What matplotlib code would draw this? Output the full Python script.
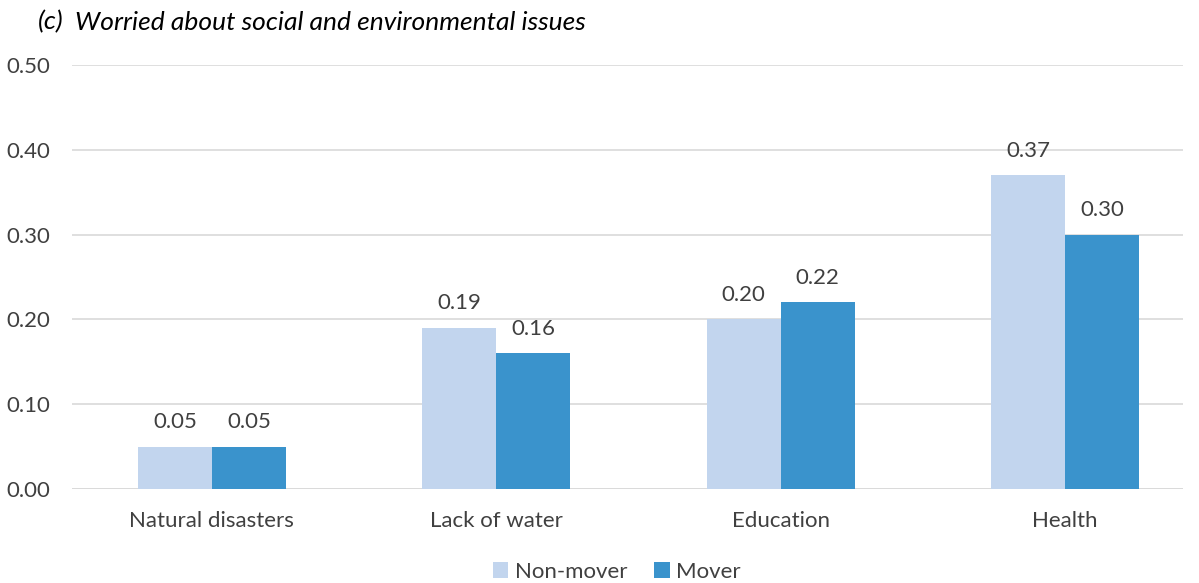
import numpy as np
import matplotlib.pyplot as plt

categories = ['Natural disasters', 'Lack of water', 'Education', 'Health']
non_mover = [0.05, 0.19, 0.20, 0.37]
mover = [0.05, 0.16, 0.22, 0.30]
yticks = [0.0, 0.1, 0.2, 0.3, 0.4, 0.5]

plt.rcParams['font.family'] = ['Lato', 'DejaVu Sans']
txt = '#404040'

fig = plt.figure(figsize=(11.99, 5.83), dpi=100)
ax = fig.add_axes([72 / 1199, 1 - 489 / 583, 1111 / 1199, 424 / 583])

x = np.arange(len(categories))
w = 0.26
b1 = ax.bar(x - w / 2, non_mover, width=w, color='#C2D5EE', label='Non-mover', zorder=2)
b2 = ax.bar(x + w / 2, mover, width=w, color='#3A93CC', label='Mover', zorder=2)

for bars, vals in [(b1, non_mover), (b2, mover)]:
    for r, v in zip(bars, vals):
        ax.text(r.get_x() + r.get_width() / 2, v + 0.017, f'{v:.2f}',
                ha='center', va='bottom', fontsize=16, color=txt)

ax.set_xlim(-0.492, 3.415)
ax.set_ylim(0, 0.5)
ax.set_yticks(yticks)
ax.set_yticklabels([f'{t:.2f}' for t in yticks])
ax.set_xticks(x)
ax.set_xticklabels(categories)
ax.tick_params(axis='both', length=0, labelsize=16, labelcolor=txt)
ax.tick_params(axis='y', pad=16)
ax.tick_params(axis='x', pad=16)
ax.grid(axis='y', color='#D9D9D9', linewidth=1.2, zorder=0)
for s in ax.spines.values():
    s.set_visible(False)
ax.axhline(0, color='#D9D9D9', linewidth=1.2, zorder=1)

fig.text(38 / 1199, 1 - 22 / 583, '(c)',
         fontsize=19, style='italic', color='black', va='center')
fig.text(75 / 1199, 1 - 22 / 583, 'Worried about social and environmental issues',
         fontsize=19, style='italic', color='black', va='center')

fig.legend(handles=[b1, b2], loc='center', bbox_to_anchor=(617 / 1199, 1 - 572 / 583),
           ncol=2, frameon=False, fontsize=16, handlelength=0.7, handleheight=0.7,
           handletextpad=0.3, columnspacing=1.2, labelcolor=txt)

fig.savefig('out.png', dpi=100)
